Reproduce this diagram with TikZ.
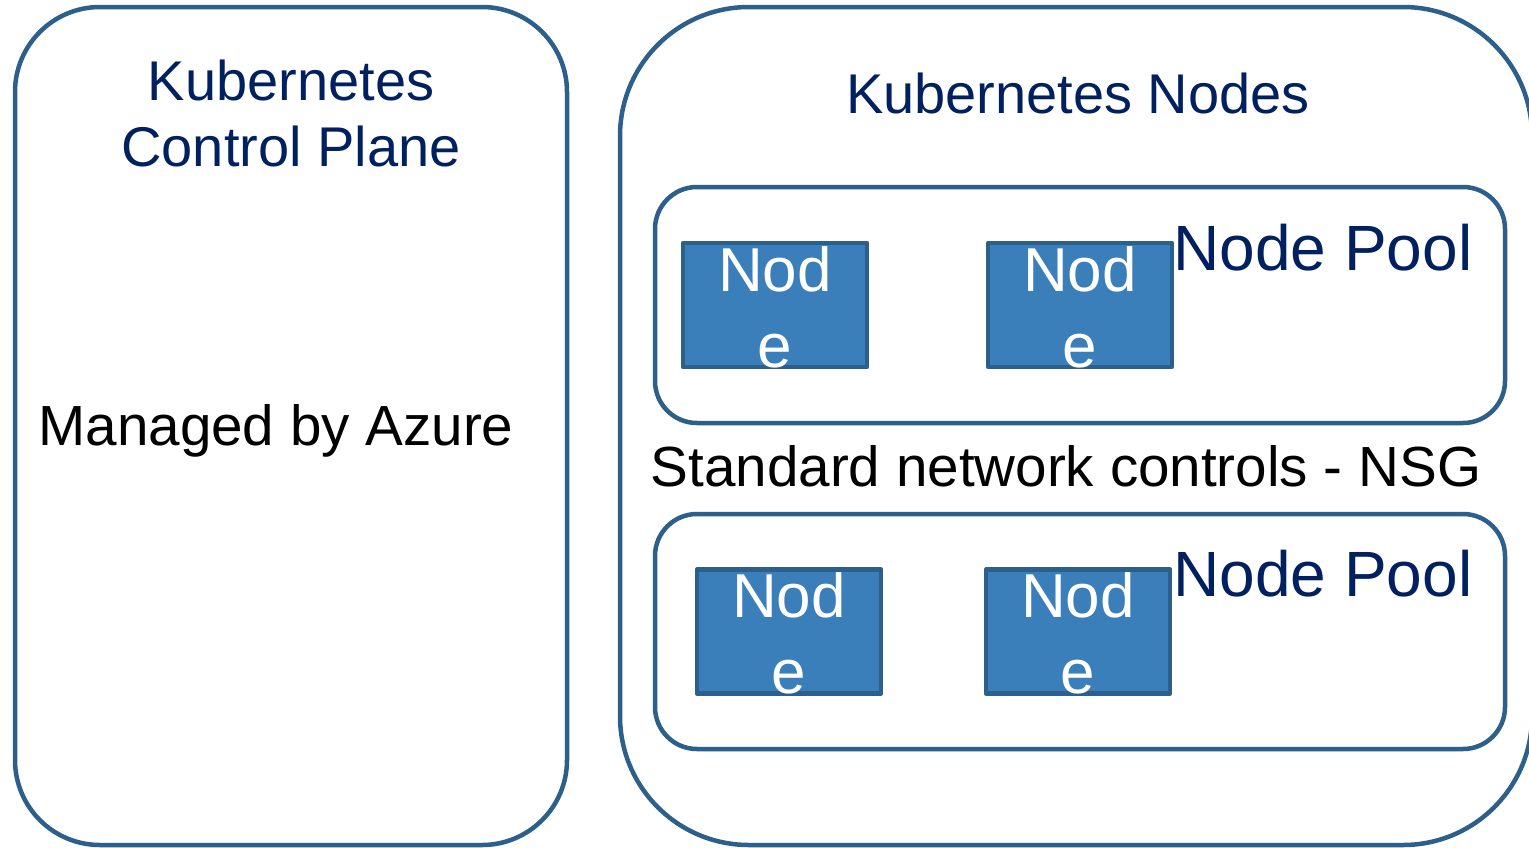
\documentclass[tikz,border=0pt]{standalone}
\usepackage{fontspec}
\setmainfont{Liberation Sans}
\definecolor{edgeblue}{RGB}{44,95,138}
\definecolor{fillblue}{RGB}{58,127,186}
\definecolor{navy}{RGB}{0,32,96}
\tikzset{
  container/.style={draw=edgeblue, line width=4.5pt, fill=white, inner sep=0pt},
  poolbox/.style={draw=edgeblue, line width=4.5pt, fill=white, rounded corners=42pt, inner sep=0pt},
  nodebox/.style={draw=edgeblue, line width=4.5pt, line join=round, fill=fillblue, inner sep=0pt,
    minimum width=184pt, minimum height=124pt},
  boxtext/.style={text=white, font=\fontsize{62}{76}\selectfont, align=center, inner sep=0pt},
  heading/.style={text=navy, font=\fontsize{56}{66}\selectfont, align=center, inner sep=0pt},
  pooltext/.style={text=navy, font=\fontsize{64}{76}\selectfont, inner sep=0pt},
  plain/.style={text=black, font=\fontsize{56.6}{66}\selectfont, inner sep=0pt},
}
\begin{document}
\begin{tikzpicture}[x=1pt, y=-1pt]
\useasboundingbox (0,0) rectangle (1529,847);
\clip (0,0) rectangle (1529,847);

% control plane container
\draw[container, rounded corners=85pt] (15,7) rectangle (567,845);
\node[heading] (cptitle) at (291,113) {Kubernetes\\Control Plane};
\node[plain] (managed) at (276,431) {Managed by Azure};

% worker nodes container
\draw[container, rounded corners=129pt] (620,7) rectangle (1532,845);
\node[heading] (kntitle) at (1078,93) {Kubernetes Nodes};

% first node pool
\node[poolbox, minimum width=850pt, minimum height=236pt] (pool1) at (1080,305) {};
\node[pooltext] (pool1label) at (1323,248) {Node Pool};
\node[nodebox] (n1) at (775,305) {};
\node[nodebox] (n2) at (1080,305) {};
\node[boxtext] at (775,307) {Nod\\e};
\node[boxtext] at (1080,307) {Nod\\e};

\node[plain] (nsg) at (1066,466) {Standard network controls - NSG};

% second node pool
\node[poolbox, minimum width=850pt, minimum height=235pt] (pool2) at (1080,631.5) {};
\node[pooltext] (pool2label) at (1323,574) {Node Pool};
\node[nodebox] (n3) at (789,631.5) {};
\node[nodebox] (n4) at (1078,631.5) {};
\node[boxtext] at (789,633) {Nod\\e};
\node[boxtext] at (1078,633) {Nod\\e};
\end{tikzpicture}
\end{document}
